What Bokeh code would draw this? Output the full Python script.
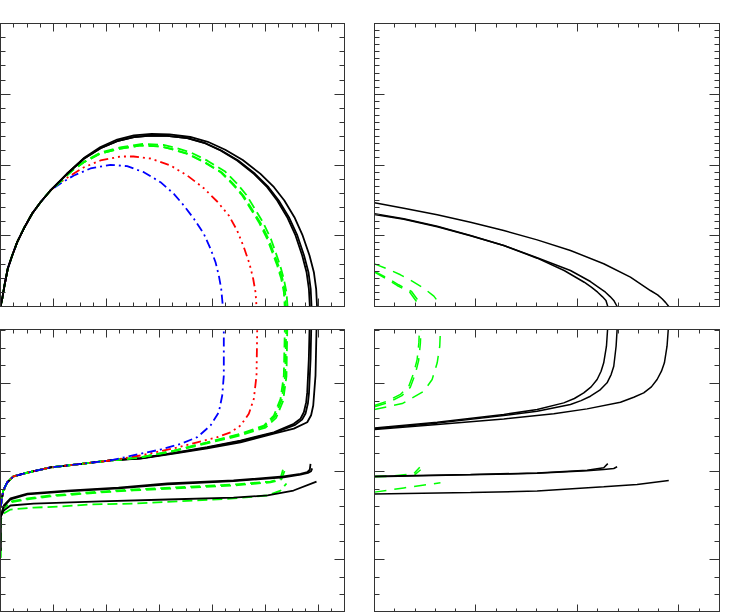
from bokeh.plotting import figure
from bokeh.models import Range1d, LinearAxis, SingleIntervalTicker
from bokeh.layouts import row, column
from bokeh.embed import file_html
from bokeh.resources import INLINE

# ---------------- Top-left panel (arc trajectories) ----------------
tl_shared_x = [0.000, 0.032, 0.075, 0.138, 0.221, 0.315, 0.440, 0.598, 0.755, 0.943]
tl_shared_y = [0.000, 0.108, 0.297, 0.537, 0.721, 0.909, 1.102, 1.314, 1.474, 1.640]

tl_black_a_x = [1.006, 1.258, 1.572, 1.887, 2.201, 2.516, 2.830, 3.145, 3.522, 3.836, 4.151, 4.465, 4.780, 5.031, 5.220, 5.409, 5.566, 5.692, 5.774, 5.818, 5.836]
tl_black_a_y = [1.686, 1.876, 2.088, 2.237, 2.336, 2.393, 2.417, 2.412, 2.379, 2.314, 2.205, 2.064, 1.876, 1.686, 1.498, 1.262, 1.004, 0.721, 0.485, 0.250, 0.000]
tl_black_b_x = [1.006, 1.258, 1.572, 1.887, 2.201, 2.516, 2.830, 3.145, 3.530, 3.848, 4.166, 4.484, 4.802, 5.057, 5.249, 5.441, 5.600, 5.727, 5.810, 5.852, 5.868]
tl_black_b_y = [1.686, 1.876, 2.088, 2.237, 2.336, 2.393, 2.417, 2.412, 2.379, 2.314, 2.205, 2.064, 1.876, 1.686, 1.498, 1.262, 1.004, 0.721, 0.485, 0.250, 0.000]
tl_black_c_x = [1.006, 1.258, 1.572, 1.887, 2.201, 2.516, 2.850, 3.190, 3.580, 3.910, 4.240, 4.570, 4.900, 5.160, 5.355, 5.545, 5.700, 5.830, 5.912, 5.955, 5.972]
tl_black_c_y = [1.686, 1.880, 2.098, 2.255, 2.360, 2.420, 2.440, 2.433, 2.396, 2.328, 2.215, 2.070, 1.878, 1.686, 1.498, 1.262, 1.004, 0.721, 0.485, 0.250, 0.000]

tl_green_1_x = [1.132, 1.358, 1.566, 1.887, 2.264, 2.642, 3.019, 3.208, 3.522, 3.836, 4.151, 4.371, 4.560, 4.717, 4.874, 5.031, 5.126, 5.220, 5.296, 5.346, 5.362]
tl_green_1_y = [1.767, 1.925, 2.035, 2.163, 2.233, 2.276, 2.261, 2.229, 2.158, 2.040, 1.898, 1.734, 1.569, 1.381, 1.192, 0.957, 0.767, 0.580, 0.391, 0.203, 0.000]
tl_green_2_x = [1.132, 1.358, 1.566, 1.887, 2.268, 2.650, 3.030, 3.222, 3.538, 3.854, 4.170, 4.392, 4.582, 4.740, 4.898, 5.055, 5.150, 5.244, 5.320, 5.370, 5.385]
tl_green_2_y = [1.767, 1.925, 2.035, 2.163, 2.233, 2.276, 2.261, 2.229, 2.158, 2.040, 1.898, 1.734, 1.569, 1.381, 1.192, 0.957, 0.767, 0.580, 0.391, 0.203, 0.000]
tl_green_3_x = [1.132, 1.358, 1.566, 1.887, 2.283, 2.679, 3.075, 3.270, 3.590, 3.910, 4.230, 4.452, 4.640, 4.795, 4.950, 5.100, 5.190, 5.275, 5.345, 5.395, 5.415]
tl_green_3_y = [1.767, 1.925, 2.042, 2.177, 2.254, 2.297, 2.283, 2.250, 2.178, 2.058, 1.912, 1.745, 1.576, 1.385, 1.192, 0.957, 0.767, 0.580, 0.391, 0.203, 0.000]

tl_red_x = [1.132, 1.264, 1.566, 1.887, 2.264, 2.509, 2.830, 3.208, 3.522, 3.836, 4.088, 4.308, 4.465, 4.591, 4.698, 4.767, 4.811, 4.830]
tl_red_y = [1.760, 1.823, 1.965, 2.064, 2.120, 2.120, 2.092, 1.993, 1.852, 1.672, 1.484, 1.286, 1.074, 0.838, 0.604, 0.392, 0.203, 0.000]

tl_blue_x = [1.132, 1.384, 1.698, 2.075, 2.390, 2.704, 3.019, 3.270, 3.459, 3.648, 3.836, 3.962, 4.057, 4.119, 4.164, 4.195]
tl_blue_y = [1.740, 1.852, 1.951, 2.003, 1.983, 1.898, 1.757, 1.593, 1.428, 1.240, 1.027, 0.815, 0.626, 0.438, 0.250, 0.000]

# ---------------- Bottom-left panel ----------------
bl_shared_x = [0.000, 0.013, 0.051, 0.126, 0.245, 0.509, 0.943, 1.566, 2.075]
bl_shared_y = [2.95, 3.18, 3.92, 4.38, 4.72, 4.94, 5.23, 5.45, 5.63]

bl_blue_x = [2.642, 3.019, 3.396, 3.711, 3.962, 4.119, 4.183, 4.213, 4.213]
bl_blue_y = [6.01, 6.25, 6.57, 6.95, 7.61, 8.37, 9.32, 10.45, 13.07]
bl_red_x = [2.642, 3.270, 3.711, 4.089, 4.340, 4.528, 4.685, 4.779, 4.830, 4.843]
bl_red_y = [5.91, 6.32, 6.66, 6.95, 7.23, 7.61, 8.28, 9.13, 10.45, 13.07]
bl_green_1_x = [2.642, 3.270, 3.900, 4.528, 4.968, 5.157, 5.283, 5.345, 5.364]
bl_green_1_y = [5.81, 6.19, 6.66, 7.14, 7.61, 8.18, 9.13, 10.45, 13.07]
bl_green_2_x = [2.642, 3.270, 3.900, 4.528, 4.985, 5.180, 5.305, 5.370, 5.390]
bl_green_2_y = [5.81, 6.18, 6.64, 7.11, 7.57, 8.13, 9.08, 10.40, 13.07]
bl_green_3_x = [2.642, 3.270, 3.900, 4.528, 5.000, 5.200, 5.330, 5.395, 5.410]
bl_green_3_y = [5.80, 6.16, 6.60, 7.05, 7.50, 8.05, 9.00, 10.40, 13.07]
bl_black_a_x = [2.642, 3.270, 3.900, 4.528, 5.157, 5.534, 5.660, 5.723, 5.767, 5.787, 5.817, 5.830]
bl_black_a_y = [5.76, 6.06, 6.38, 6.76, 7.23, 7.71, 8.00, 8.37, 8.94, 9.51, 11.40, 13.07]
bl_black_b_x = [2.642, 3.270, 3.900, 4.528, 5.157, 5.560, 5.690, 5.755, 5.800, 5.820, 5.850, 5.862]
bl_black_b_y = [5.75, 6.05, 6.36, 6.73, 7.19, 7.65, 7.95, 8.30, 8.88, 9.45, 11.40, 13.07]
bl_black_c_x = [2.642, 3.270, 3.900, 4.528, 5.157, 5.534, 5.787, 5.860, 5.900, 5.943, 5.962]
bl_black_c_y = [5.74, 6.02, 6.32, 6.66, 7.16, 7.44, 7.80, 8.20, 8.75, 10.45, 13.07]

bl_low_black_a_x = [0.0, 0.0, 0.062, 0.189, 0.509, 1.264, 2.226, 3.151, 4.396, 5.340, 5.660, 5.787, 5.835, 5.849]
bl_low_black_a_y = [0.50, 2.39, 3.07, 3.47, 3.75, 3.92, 4.09, 4.32, 4.49, 4.72, 4.86, 4.96, 5.10, 5.44]
bl_low_black_b_x = [0.0, 0.0, 0.062, 0.189, 0.509, 1.264, 2.226, 3.151, 4.396, 5.340, 5.660, 5.800, 5.860, 5.880]
bl_low_black_b_y = [0.50, 2.39, 3.02, 3.42, 3.70, 3.87, 4.04, 4.27, 4.45, 4.67, 4.82, 4.92, 5.02, 5.18]
bl_low_black_c_x = [0.0, 0.0, 0.062, 0.189, 0.623, 1.887, 3.151, 4.396, 5.038, 5.528, 5.962]
bl_low_black_c_y = [0.50, 2.39, 2.78, 3.07, 3.18, 3.30, 3.41, 3.52, 3.64, 3.92, 4.43]
bl_low_green_1_x = [0.0, 0.0, 0.057, 0.189, 0.509, 0.943, 1.887, 2.509, 4.396, 5.094, 5.283, 5.340]
bl_low_green_1_y = [0.10, 2.22, 2.90, 3.30, 3.47, 3.64, 3.86, 3.98, 4.26, 4.43, 4.60, 5.23]
bl_low_green_2_x = [0.0, 0.0, 0.057, 0.189, 0.509, 0.943, 1.887, 2.509, 4.396, 5.094, 5.300, 5.360]
bl_low_green_2_y = [0.10, 2.22, 2.85, 3.25, 3.42, 3.59, 3.81, 3.93, 4.21, 4.38, 4.55, 5.05]
bl_low_green_3_x = [0.0, 0.0, 0.057, 0.189, 0.623, 1.132, 1.698, 2.509, 4.396, 5.038, 5.283, 5.396]
bl_low_green_3_y = [0.10, 2.22, 2.61, 2.84, 2.95, 3.01, 3.13, 3.18, 3.47, 3.64, 3.92, 4.32]

# ---------------- Top-right panel ----------------
tr_black_1_x = [0.0, 0.289, 0.618, 0.946, 1.274, 1.603, 1.931, 2.259, 2.522, 2.719, 2.790, 2.834, 2.870, 2.900]
tr_black_1_y = [1.466, 1.390, 1.296, 1.192, 1.074, 0.942, 0.792, 0.604, 0.415, 0.226, 0.165, 0.109, 0.055, 0.000]
tr_black_2_x = [0.0, 0.289, 0.618, 0.946, 1.274, 1.603, 1.869, 2.067, 2.140, 2.199, 2.245, 2.281, 2.299]
tr_black_2_y = [1.310, 1.240, 1.135, 1.004, 0.862, 0.683, 0.509, 0.343, 0.270, 0.202, 0.140, 0.085, 0.000]
tr_black_3_x = [0.0, 0.289, 0.618, 0.946, 1.274, 1.603, 1.931, 2.128, 2.205, 2.276, 2.322, 2.358, 2.391]
tr_black_3_y = [1.300, 1.232, 1.128, 1.000, 0.862, 0.690, 0.509, 0.353, 0.275, 0.202, 0.140, 0.085, 0.000]
tr_green_1_x = [0.0, 0.118, 0.223, 0.348, 0.414, 0.437]
tr_green_1_y = [0.485, 0.391, 0.297, 0.202, 0.071, 0.000]
tr_green_2_x = [0.0, 0.128, 0.238, 0.365, 0.432, 0.455]
tr_green_2_y = [0.495, 0.401, 0.307, 0.212, 0.081, 0.000]
tr_green_3_x = [0.0, 0.125, 0.256, 0.371, 0.486, 0.585, 0.630, 0.650]
tr_green_3_y = [0.603, 0.533, 0.448, 0.358, 0.259, 0.146, 0.060, 0.000]

# ---------------- Bottom-right panel ----------------
br_black_1_x = [0.0, 0.618, 1.274, 1.767, 2.095, 2.424, 2.555, 2.653, 2.729, 2.785, 2.828, 2.857, 2.883, 2.895]
br_black_1_y = [7.39, 7.67, 7.99, 8.28, 8.56, 8.94, 9.22, 9.47, 9.81, 10.23, 10.70, 11.18, 12.12, 13.07]
br_black_2_x = [0.0, 0.618, 1.274, 1.603, 1.865, 1.970, 2.062, 2.135, 2.194, 2.233, 2.259, 2.286, 2.297]
br_black_2_y = [7.48, 7.80, 8.24, 8.52, 8.90, 9.15, 9.47, 9.81, 10.23, 10.70, 11.18, 12.12, 13.07]
br_black_3_x = [0.0, 0.618, 1.274, 1.603, 1.931, 2.036, 2.128, 2.220, 2.292, 2.332, 2.358, 2.381, 2.391]
br_black_3_y = [7.43, 7.75, 8.18, 8.43, 8.81, 9.03, 9.28, 9.62, 10.04, 10.51, 10.98, 12.12, 13.07]
br_green_1_x = [0.0, 0.125, 0.256, 0.338, 0.387, 0.420, 0.437, 0.443]
br_green_1_y = [8.75, 9.00, 9.38, 9.85, 10.61, 11.36, 12.31, 13.07]
br_green_2_x = [0.0, 0.138, 0.270, 0.352, 0.402, 0.435, 0.452, 0.458]
br_green_2_y = [8.68, 8.93, 9.31, 9.78, 10.55, 11.31, 12.28, 13.07]
br_green_3_x = [0.0, 0.273, 0.486, 0.568, 0.618, 0.643, 0.650]
br_green_3_y = [8.52, 8.86, 9.56, 10.23, 11.18, 12.12, 13.07]

br_low_black_1_x = [0.0, 0.946, 1.603, 2.259, 2.588, 2.900]
br_low_black_1_y = [3.72, 3.81, 3.89, 4.13, 4.26, 4.49]
br_low_black_2_x = [0.0, 0.946, 1.603, 2.095, 2.259, 2.299]
br_low_black_2_y = [4.73, 4.83, 4.92, 5.07, 5.21, 5.45]
br_low_black_3_x = [0.0, 0.946, 1.603, 2.095, 2.259, 2.358, 2.391]
br_low_black_3_y = [4.71, 4.81, 4.90, 5.04, 5.12, 5.17, 5.27]
br_low_green_1_x = [0.0, 0.187, 0.387, 0.446]
br_low_green_1_y = [4.73, 4.76, 4.87, 5.25]
br_low_green_2_x = [0.0, 0.187, 0.400, 0.455]
br_low_green_2_y = [4.70, 4.72, 4.84, 5.10]
br_low_green_3_x = [0.0, 0.289, 0.650]
br_low_green_3_y = [3.83, 4.07, 4.36]

AXC = "#333333"
BLACK = "#000000"
GREEN = "#00ff00"
RED = "#ff0000"
BLUE = "#0000ff"


def style_axis(ax, major, minor):
    ax.major_label_text_font_size = "0px"
    ax.major_label_text_color = None
    ax.major_label_standoff = 0
    ax.axis_label = None
    ax.major_tick_out = 0
    ax.minor_tick_out = 0
    ax.major_tick_in = major
    ax.minor_tick_in = minor
    ax.axis_line_color = AXC
    ax.major_tick_line_color = AXC
    ax.minor_tick_line_color = AXC
    ax.axis_line_width = 1
    ax.major_tick_line_width = 1
    ax.minor_tick_line_width = 1


def panel(xr, yr, xint, xminor, yint, yminor, w, h, bl, br, bt, bb):
    p = figure(width=w, height=h, output_backend="svg", toolbar_location=None,
               x_range=Range1d(*xr), y_range=Range1d(*yr),
               min_border_left=bl, min_border_right=br,
               min_border_top=bt, min_border_bottom=bb)
    p.xgrid.visible = False
    p.ygrid.visible = False
    p.outline_line_color = AXC
    p.outline_line_width = 1
    p.background_fill_color = "white"
    p.border_fill_color = "white"
    xt = SingleIntervalTicker(interval=xint, num_minor_ticks=xminor)
    yt = SingleIntervalTicker(interval=yint, num_minor_ticks=yminor)
    p.xaxis.ticker = xt
    p.yaxis.ticker = yt
    p.add_layout(LinearAxis(ticker=xt), "above")
    p.add_layout(LinearAxis(ticker=yt), "right")
    for ax in p.xaxis:
        style_axis(ax, 8, 4)
    for ax in p.yaxis:
        style_axis(ax, 10, 5)
    return p


LW_L = 1.8
LW_R = 1.5
DASH_G = "10 5"
DASH_R = "9 4 2 4 2 4 2 4"
DASH_B = "9 4 2 4"

# Top-left
p1 = panel((0, 6.49), (0, 4), 1, 4, 1, 5, 369, 317, 10, 15, 23, 11)
p1.line(tl_shared_x + tl_blue_x, tl_shared_y + tl_blue_y, line_color=BLUE, line_width=LW_L, line_dash=DASH_B)
p1.line(tl_shared_x + tl_red_x, tl_shared_y + tl_red_y, line_color=RED, line_width=LW_L, line_dash=DASH_R)
for gx, gy in [(tl_green_1_x, tl_green_1_y), (tl_green_2_x, tl_green_2_y), (tl_green_3_x, tl_green_3_y)]:
    p1.line(tl_shared_x + gx, tl_shared_y + gy, line_color=GREEN, line_width=LW_L, line_dash=DASH_G)
for bx, by in [(tl_black_a_x, tl_black_a_y), (tl_black_b_x, tl_black_b_y), (tl_black_c_x, tl_black_c_y)]:
    p1.line(tl_shared_x + bx, tl_shared_y + by, line_color=BLACK, line_width=LW_L)

# Top-right
p2 = panel((0, 3.4), (0, 4), 1, 5, 1, 10, 370, 317, 15, 10, 23, 11)
for gx, gy in [(tr_green_1_x, tr_green_1_y), (tr_green_2_x, tr_green_2_y), (tr_green_3_x, tr_green_3_y)]:
    p2.line(gx, gy, line_color=GREEN, line_width=LW_R, line_dash="12 8")
for bx, by in [(tr_black_1_x, tr_black_1_y), (tr_black_2_x, tr_black_2_y), (tr_black_3_x, tr_black_3_y)]:
    p2.line(bx, by, line_color=BLACK, line_width=LW_R)

# Bottom-left
p3 = panel((0, 6.49), (-3.01, 13.07), 1, 4, 5, 5, 369, 295, 10, 15, 12, 0)
for gx, gy in [(bl_low_green_1_x, bl_low_green_1_y), (bl_low_green_2_x, bl_low_green_2_y), (bl_low_green_3_x, bl_low_green_3_y)]:
    p3.line(gx, gy, line_color=GREEN, line_width=LW_L, line_dash=DASH_G)
for bx, by in [(bl_low_black_a_x, bl_low_black_a_y), (bl_low_black_b_x, bl_low_black_b_y), (bl_low_black_c_x, bl_low_black_c_y)]:
    p3.line(bx, by, line_color=BLACK, line_width=LW_L)
for bx, by in [(bl_black_a_x, bl_black_a_y), (bl_black_b_x, bl_black_b_y), (bl_black_c_x, bl_black_c_y)]:
    p3.line(bl_shared_x + bx, bl_shared_y + by, line_color=BLACK, line_width=LW_L)
for gx, gy in [(bl_green_1_x, bl_green_1_y), (bl_green_2_x, bl_green_2_y), (bl_green_3_x, bl_green_3_y)]:
    p3.line(bl_shared_x + gx, bl_shared_y + gy, line_color=GREEN, line_width=LW_L, line_dash=DASH_G)
p3.line(bl_shared_x + bl_red_x, bl_shared_y + bl_red_y, line_color=RED, line_width=LW_L, line_dash=DASH_R)
p3.line(bl_shared_x + bl_blue_x, bl_shared_y + bl_blue_y, line_color=BLUE, line_width=LW_L, line_dash=DASH_B)

# Bottom-right
p4 = panel((0, 3.4), (-3.01, 13.07), 1, 5, 5, 5, 370, 295, 15, 10, 12, 0)
for gx, gy in [(br_green_1_x, br_green_1_y), (br_green_2_x, br_green_2_y), (br_green_3_x, br_green_3_y),
               (br_low_green_1_x, br_low_green_1_y), (br_low_green_2_x, br_low_green_2_y), (br_low_green_3_x, br_low_green_3_y)]:
    p4.line(gx, gy, line_color=GREEN, line_width=LW_R, line_dash="12 8")
for bx, by in [(br_black_1_x, br_black_1_y), (br_black_2_x, br_black_2_y), (br_black_3_x, br_black_3_y),
               (br_low_black_1_x, br_low_black_1_y), (br_low_black_2_x, br_low_black_2_y), (br_low_black_3_x, br_low_black_3_y)]:
    p4.line(bx, by, line_color=BLACK, line_width=LW_R)

layout = column(row(p1, p2), row(p3, p4), margin=(0, 0, 0, -10))

open("out.html", "w").write(file_html(layout, INLINE))
